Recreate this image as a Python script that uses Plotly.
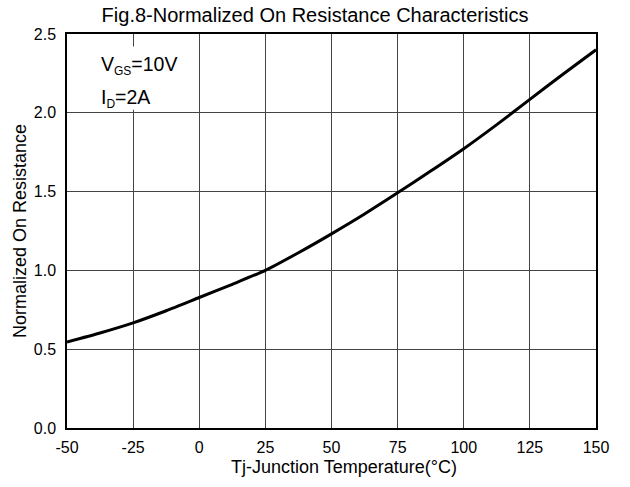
import plotly.graph_objects as go

# Junction temperature (°C) and normalized on-resistance
temp_c = [-50, -37.5, -25, -12.5, 0, 12.5, 25, 37.5, 50, 62.5, 75, 87.5, 100, 112.5, 125, 137.5, 150]
r_norm = [0.546, 0.603, 0.667, 0.744, 0.828, 0.912, 1.0, 1.112, 1.232, 1.358, 1.492, 1.630, 1.772, 1.925, 2.085, 2.245, 2.40]

x_ticks = [-50, -25, 0, 25, 50, 75, 100, 125, 150]
y_ticks = [0.0, 0.5, 1.0, 1.5, 2.0, 2.5]

font_family = "Liberation Sans, Arial, sans-serif"
sub = '<sub><span style="font-size:12px">{}</span></sub>'

fig = go.Figure()
fig.add_trace(go.Scatter(
    x=temp_c, y=r_norm, mode="lines",
    line=dict(color="black", width=3, shape="spline", smoothing=0.6),
    showlegend=False, hoverinfo="skip",
))

# white backing behind the test-condition labels
fig.add_shape(type="rect", xref="x", yref="y", x0=-41, x1=-5, y0=2.02, y1=2.42,
              fillcolor="white", line=dict(width=0), layer="above")

fig.add_annotation(
    xref="x", yref="y", x=-38, y=2.30, xanchor="left", yanchor="middle",
    text="V" + sub.format("GS") + "=10V", align="left", showarrow=False,
    font=dict(family=font_family, size=19.5, color="black"),
)
fig.add_annotation(
    xref="x", yref="y", x=-38, y=2.09, xanchor="left", yanchor="middle",
    text="I" + sub.format("D") + "=2A", align="left", showarrow=False,
    font=dict(family=font_family, size=19.5, color="black"),
)

# axis titles
fig.add_annotation(
    xref="paper", yref="paper", x=0.5236, y=-0.099, xanchor="center", yanchor="middle",
    text="Tj-Junction Temperature(°C)", showarrow=False,
    font=dict(family=font_family, size=18, color="black"),
)
fig.add_annotation(
    xref="paper", yref="paper", x=-0.0888, y=0.5, xanchor="center", yanchor="middle",
    text="Normalized On Resistance", textangle=-90, showarrow=False,
    font=dict(family=font_family, size=18, color="black"),
)

fig.update_layout(
    width=630, height=487,
    margin=dict(l=67, r=34, t=34, b=59),
    paper_bgcolor="white", plot_bgcolor="white",
    font=dict(family=font_family, color="black"),
    title=dict(
        text="Fig.8-Normalized On Resistance Characteristics",
        x=0.5, xref="container", xanchor="center", y=0.969, yref="container", yanchor="middle",
        font=dict(size=20, color="black"),
    ),
)
fig.update_xaxes(
    range=[-50, 150], tickvals=x_ticks, ticktext=[str(v) for v in x_ticks],
    showgrid=True, gridcolor="#444", gridwidth=1,
    showline=True, linecolor="black", linewidth=1.5, mirror=True,
    ticks="", zeroline=False, ticklabelstandoff=4,
    tickfont=dict(size=16),
)
fig.update_yaxes(
    range=[0, 2.5], tickvals=y_ticks, ticktext=[f"{v:.1f}" for v in y_ticks],
    showgrid=True, gridcolor="#444", gridwidth=1,
    showline=True, linecolor="black", linewidth=1.5, mirror=True,
    ticks="", zeroline=False, ticklabelstandoff=6,
    tickfont=dict(size=16),
)

fig.write_html("out.html")
